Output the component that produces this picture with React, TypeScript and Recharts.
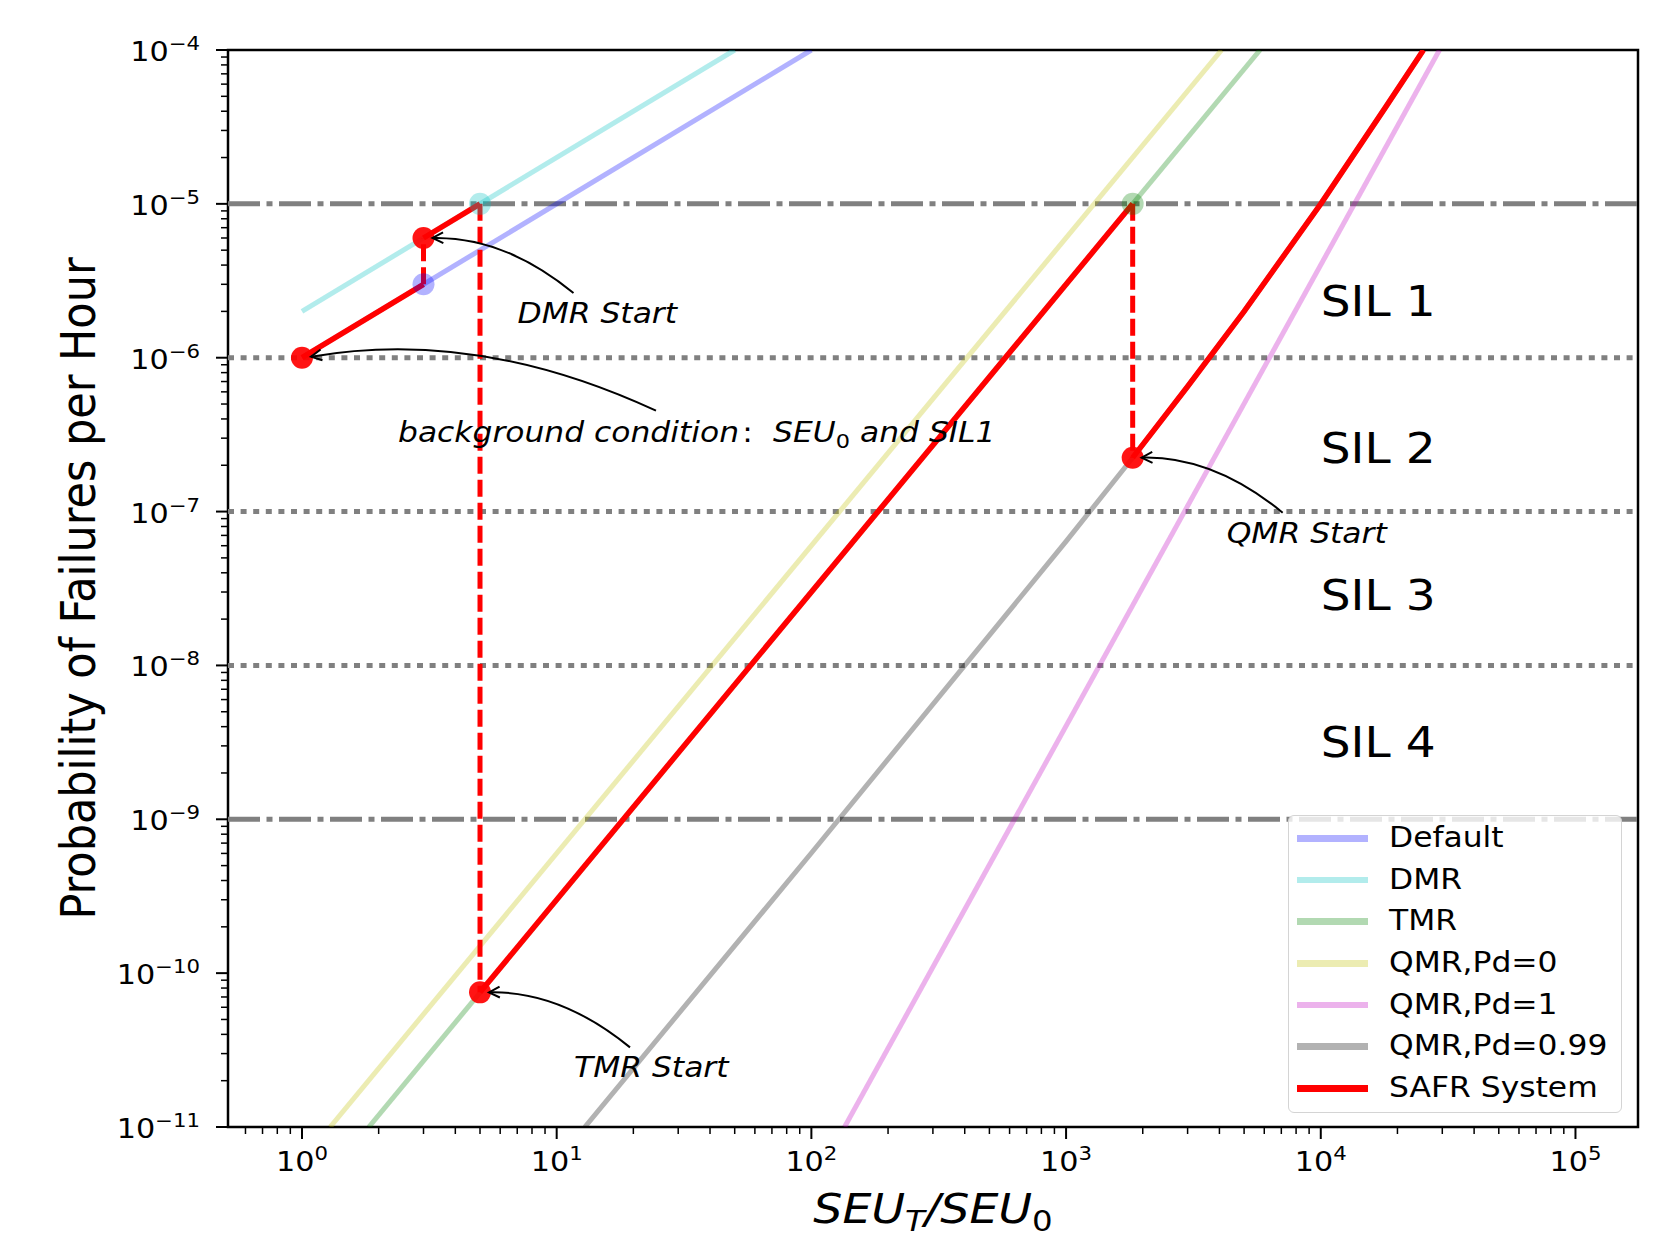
import React from 'react'
import { LineChart, Line, XAxis, YAxis, ReferenceLine, ReferenceDot, ReferenceArea } from 'recharts'

const FONT = '"DejaVu Sans", Verdana, sans-serif'
// the source picture is a little wider than tall, so text is stretched sideways
const SX = 1.12

const W = 1659
const H = 1225
const MARGIN = { top: 42, right: 29, bottom: 46, left: 20 }
const Y_AXIS_W = 200
const X_AXIS_H = 60

const xDomain = [0.5123, 176000]
const yDomain = [1e-11, 1e-4]

const xDecades = [0.1, 1, 10, 100, 1000, 10000, 100000]
const yDecades = [1e-12, 1e-11, 1e-10, 1e-9, 1e-8, 1e-7, 1e-6, 1e-5, 1e-4]
const minorSteps = [1, 2, 3, 4, 5, 6, 7, 8, 9]

// curves (x = SEU_T/SEU_0, y = failures per hour)
const defaultX = [1, 100]
const defaultY = [1e-6, 1e-4]
const dmrX = [1, 50]
const dmrY = [2e-6, 1e-4]
const tmrX = [1.83, 5774]
const tmrY = [1e-11, 1e-4]
const qmr0X = [1.29, 4080]
const qmr0Y = [1e-11, 1e-4]
const qmr1X = [135, 29240]
const qmr1Y = [1e-11, 1e-4]
const qmr99X = [12.9, 100, 1000, 1826, 3000, 5000, 10000, 18000, 25300]
const qmr99Y = [1e-11, 6.04e-10, 6.4e-8, 2.24e-7, 6.5e-7, 2.0e-6, 1.0e-5, 4.27e-5, 1.0e-4]

// SAFR system path, solid pieces and the dashed switch-overs
const safrSolidX = [[1, 3], [3, 5], [5, 1826], [1826, 3000, 5000, 10000, 18000, 25300]]
const safrSolidY = [[1e-6, 3e-6], [6e-6, 1e-5], [7.5e-11, 1e-5], [2.24e-7, 6.5e-7, 2.0e-6, 1e-5, 4.27e-5, 1e-4]]
const safrJumpX = [[3, 3], [5, 5], [1826, 1826]]
const safrJumpY = [[3e-6, 6e-6], [1e-5, 7.5e-11], [1e-5, 2.24e-7]]

const redDotX = [1, 3, 5, 1826]
const redDotY = [1e-6, 6e-6, 7.5e-11, 2.24e-7]
const paleDotX = [3, 5, 1826]
const paleDotY = [3e-6, 1e-5, 1e-5]
const paleDotColor = ['#0000ff', '#00bfbf', '#008000']

const startNames = ['DMR Start', 'TMR Start', 'QMR Start']
const startX = [3, 5, 1826]
const startY = [6e-6, 7.5e-11, 2.24e-7]

const dashDotLevels = [1e-5, 1e-9]
const dottedLevels = [1e-6, 1e-7, 1e-8]

const silNames = ['SIL 1', 'SIL 2', 'SIL 3', 'SIL 4']
const silY = [1.87e-6, 2.07e-7, 2.29e-8, 2.54e-9]
const silX = 1e4

const seriesNames = ['Default', 'DMR', 'TMR', 'QMR,Pd=0', 'QMR,Pd=1', 'QMR,Pd=0.99', 'SAFR System']
const seriesColors = ['#0000ff', '#00bfbf', '#008000', '#bfbf00', '#bf00bf', '#000000', '#ff0000']
const seriesAlpha = [0.3, 0.3, 0.3, 0.3, 0.3, 0.3, 1]

const pts = (xs: number[], ys: number[]) => xs.map((x, i) => ({ x, y: ys[i] }))
const fadedCurves = [
  pts(defaultX, defaultY),
  pts(dmrX, dmrY),
  pts(tmrX, tmrY),
  pts(qmr0X, qmr0Y),
  pts(qmr1X, qmr1Y),
  pts(qmr99X, qmr99Y),
]

const ticksFor = (decades: number[], lo: number, hi: number) =>
  decades
    .flatMap(d => minorSteps.map(m => Number((m * d).toPrecision(3))))
    .filter(v => v >= lo && v <= hi)
const xTicks = ticksFor(xDecades, xDomain[0], xDomain[1])
const yTicks = ticksFor(yDecades, yDomain[0], yDomain[1])

const isMajor = (v: number) => Math.abs(Math.log10(v) - Math.round(Math.log10(v))) < 1e-6
const expText = (v: number) => {
  const e = Math.round(Math.log10(v))
  return e < 0 ? '\u2212' + Math.abs(e) : String(e)
}

const plotLeft = MARGIN.left + Y_AXIS_W
const plotTop = MARGIN.top
const plotW = W - plotLeft - MARGIN.right
const plotH = H - MARGIN.top - MARGIN.bottom - X_AXIS_H
const plotBottom = plotTop + plotH

const PowLabel = ({ x, y, v, anchor }: any) => (
  <g transform={`translate(${x},${y}) scale(${SX},1)`}>
    <text x={0} y={0} textAnchor={anchor} fontFamily={FONT} fontSize={27} fill="#000">
      10<tspan dy={-11} fontSize={19}>{expText(v)}</tspan>
    </text>
  </g>
)

const XTick = (props: any) => {
  const { x, payload } = props
  const y = plotBottom
  const major = isMajor(payload.value)
  return (
    <g>
      <line x1={x} x2={x} y1={y} y2={y + (major ? 12 : 7)} stroke="#000" strokeWidth={major ? 2 : 1.5} />
      {major && <PowLabel x={x} y={y + 44} v={payload.value} anchor="middle" />}
    </g>
  )
}

const YTick = (props: any) => {
  const { y, payload } = props
  const x = plotLeft
  const major = isMajor(payload.value)
  return (
    <g>
      <line x1={x - (major ? 12 : 7)} x2={x} y1={y} y2={y} stroke="#000" strokeWidth={major ? 2 : 1.5} />
      {major && <PowLabel x={x - 28} y={y + 11} v={payload.value} anchor="end" />}
    </g>
  )
}

const XTitle = () => (
  <g transform={`translate(${plotLeft + plotW / 2},${plotBottom + 96}) scale(${SX},1)`}>
    <text x={0} y={0} textAnchor="middle" fontFamily={FONT} fontSize={41} fontStyle="italic" fill="#000">
      SEU<tspan dy={8} fontSize={29}>T</tspan>
      <tspan dy={-8}>/SEU</tspan>
      <tspan dy={8} fontSize={29} fontStyle="normal">0</tspan>
    </text>
  </g>
)

const YTitle = () => (
  <g transform={`translate(${87},${plotTop + plotH / 2}) scale(${SX},1) rotate(-90)`}>
    <text x={0} y={0} textAnchor="middle" fontFamily={FONT} fontSize={43} fill="#000">
      Probability of Failures per Hour
    </text>
  </g>
)

// curved "->" arrow from the text to the point, like matplotlib's annotate
const Callout = ({ cx, cy, tail, ctrl, tip, tx, ty, children }: any) => {
  const p2 = [cx + tip[0], cy + tip[1]]
  const p0 = [cx + tail[0], cy + tail[1]]
  const c = [cx + ctrl[0], cy + ctrl[1]]
  const a = Math.atan2(p2[1] - c[1], p2[0] - c[0])
  const L = 12
  const w = 0.47
  const h1 = [p2[0] - L * Math.cos(a - w), p2[1] - L * Math.sin(a - w)]
  const h2 = [p2[0] - L * Math.cos(a + w), p2[1] - L * Math.sin(a + w)]
  return (
    <g>
      <path d={`M${p0} Q${c} ${p2}`} fill="none" stroke="#000" strokeWidth={2} />
      <path d={`M${h1} L${p2} L${h2}`} fill="none" stroke="#000" strokeWidth={2} />
      <g transform={`translate(${cx + tx},${cy + ty}) scale(${SX},1)`}>
        <text x={0} y={0} fontFamily={FONT} fontSize={28} fontStyle="italic" fill="#000">
          {children}
        </text>
      </g>
    </g>
  )
}

const SilText = ({ cx, cy, label }: any) => (
  <g transform={`translate(${cx},${cy}) scale(${SX},1)`}>
    <text x={0} y={0} fontFamily={FONT} fontSize={42} fill="#000">{label}</text>
  </g>
)

const LegendBox = () => (
  <div
    style={{
      position: 'absolute',
      left: 1280,
      top: 807,
      width: 334,
      height: 298,
      boxSizing: 'border-box',
      border: '1.5px solid #d4d4d4',
      borderRadius: 6,
      background: 'rgba(255,255,255,0.8)',
      fontFamily: FONT,
    }}
  >
    {seriesNames.map((name, i) => (
      <div key={name} style={{ position: 'absolute', left: 0, top: 22 + i * 41.67 - 14, height: 28, width: 330 }}>
        <div
          style={{
            position: 'absolute',
            left: 8,
            top: 11,
            width: 71,
            height: 6.5,
            background: seriesColors[i],
            opacity: seriesAlpha[i],
          }}
        />
        <div
          style={{
            position: 'absolute',
            left: 100,
            top: 0,
            fontSize: 28,
            lineHeight: '28px',
            whiteSpace: 'nowrap',
            color: '#000',
            transform: `scaleX(${SX})`,
            transformOrigin: 'left center',
          }}
        >
          {name}
        </div>
      </div>
    ))}
  </div>
)

export default function App() {
  return (
    <div style={{ position: 'relative', width: W, height: H }}>
      <style>{'svg.recharts-surface { overflow: visible; }'}</style>
      <LineChart width={W} height={H} margin={MARGIN}>
        <XAxis
          dataKey="x"
          type="number"
          scale="log"
          domain={xDomain}
          allowDataOverflow
          ticks={xTicks}
          interval={0}
          tick={<XTick />}
          tickLine={false}
          axisLine={false}
          tickSize={0}
          tickMargin={0}
          height={X_AXIS_H}
          label={<XTitle />}
        />
        <YAxis
          type="number"
          scale="log"
          domain={yDomain}
          allowDataOverflow
          ticks={yTicks}
          interval={0}
          tick={<YTick />}
          tickLine={false}
          axisLine={false}
          tickSize={0}
          tickMargin={0}
          width={Y_AXIS_W}
          label={<YTitle />}
        />

        {dashDotLevels.map(v => (
          <ReferenceLine key={'dd' + v} y={v} stroke="#808080" strokeWidth={5} strokeDasharray="32 6.5 6 6.5" />
        ))}
        {dottedLevels.map(v => (
          <ReferenceLine key={'dt' + v} y={v} stroke="#808080" strokeWidth={5} strokeDasharray="6 6.6" />
        ))}

        {fadedCurves.map((data, i) => (
          <Line
            key={seriesNames[i]}
            data={data}
            dataKey="y"
            type="linear"
            stroke={seriesColors[i]}
            strokeOpacity={0.3}
            strokeWidth={5}
            dot={false}
            activeDot={false}
            isAnimationActive={false}
          />
        ))}

        {paleDotX.map((x, i) => (
          <ReferenceDot key={'pale' + i} x={x} y={paleDotY[i]} r={11} fill={paleDotColor[i]} fillOpacity={0.3} stroke="none" />
        ))}

        {safrSolidX.map((xs, i) => (
          <Line
            key={'safr' + i}
            data={pts(xs, safrSolidY[i])}
            dataKey="y"
            type="linear"
            stroke="#ff0000"
            strokeWidth={5.5}
            dot={false}
            activeDot={false}
            isAnimationActive={false}
          />
        ))}
        {safrJumpX.map((xs, i) => (
          <Line
            key={'jump' + i}
            data={pts(xs, safrJumpY[i])}
            dataKey="y"
            type="linear"
            stroke="#ff0000"
            strokeWidth={5}
            strokeDasharray="17 6"
            dot={false}
            activeDot={false}
            isAnimationActive={false}
          />
        ))}

        {redDotX.map((x, i) => (
          <ReferenceDot key={'red' + i} x={x} y={redDotY[i]} r={11} fill="#ff0000" fillOpacity={0.92} stroke="none" />
        ))}

        {startNames.map((name, i) => (
          <ReferenceDot
            key={name}
            x={startX[i]}
            y={startY[i]}
            r={1}
            shape={(p: any) => (
              <Callout cx={p.cx} cy={p.cy} tail={[150, 55]} ctrl={[80, -2]} tip={[9, 0]} tx={94} ty={85}>
                {name}
              </Callout>
            )}
          />
        ))}
        <ReferenceDot
          x={redDotX[0]}
          y={redDotY[0]}
          r={1}
          shape={(p: any) => (
            <Callout cx={p.cx} cy={p.cy} tail={[354, 53]} ctrl={[175, -30]} tip={[9, -1]} tx={96} ty={84}>
              background condition
              <tspan dx={3} fontStyle="normal">:</tspan>
              <tspan dx={18}>SEU</tspan>
              <tspan dy={6} fontSize={20} fontStyle="normal">0</tspan>
              <tspan dy={-6}> and SIL1</tspan>
            </Callout>
          )}
        />

        {silNames.map((name, i) => (
          <ReferenceDot
            key={name}
            x={silX}
            y={silY[i]}
            r={1}
            shape={(p: any) => <SilText cx={p.cx} cy={p.cy} label={name} />}
          />
        ))}

        <ReferenceArea
          x1={xDomain[0]}
          x2={xDomain[1]}
          y1={yDomain[0]}
          y2={yDomain[1]}
          fill="none"
          fillOpacity={0}
          stroke="#000"
          strokeWidth={2.5}
        />
      </LineChart>
      <LegendBox />
    </div>
  )
}
